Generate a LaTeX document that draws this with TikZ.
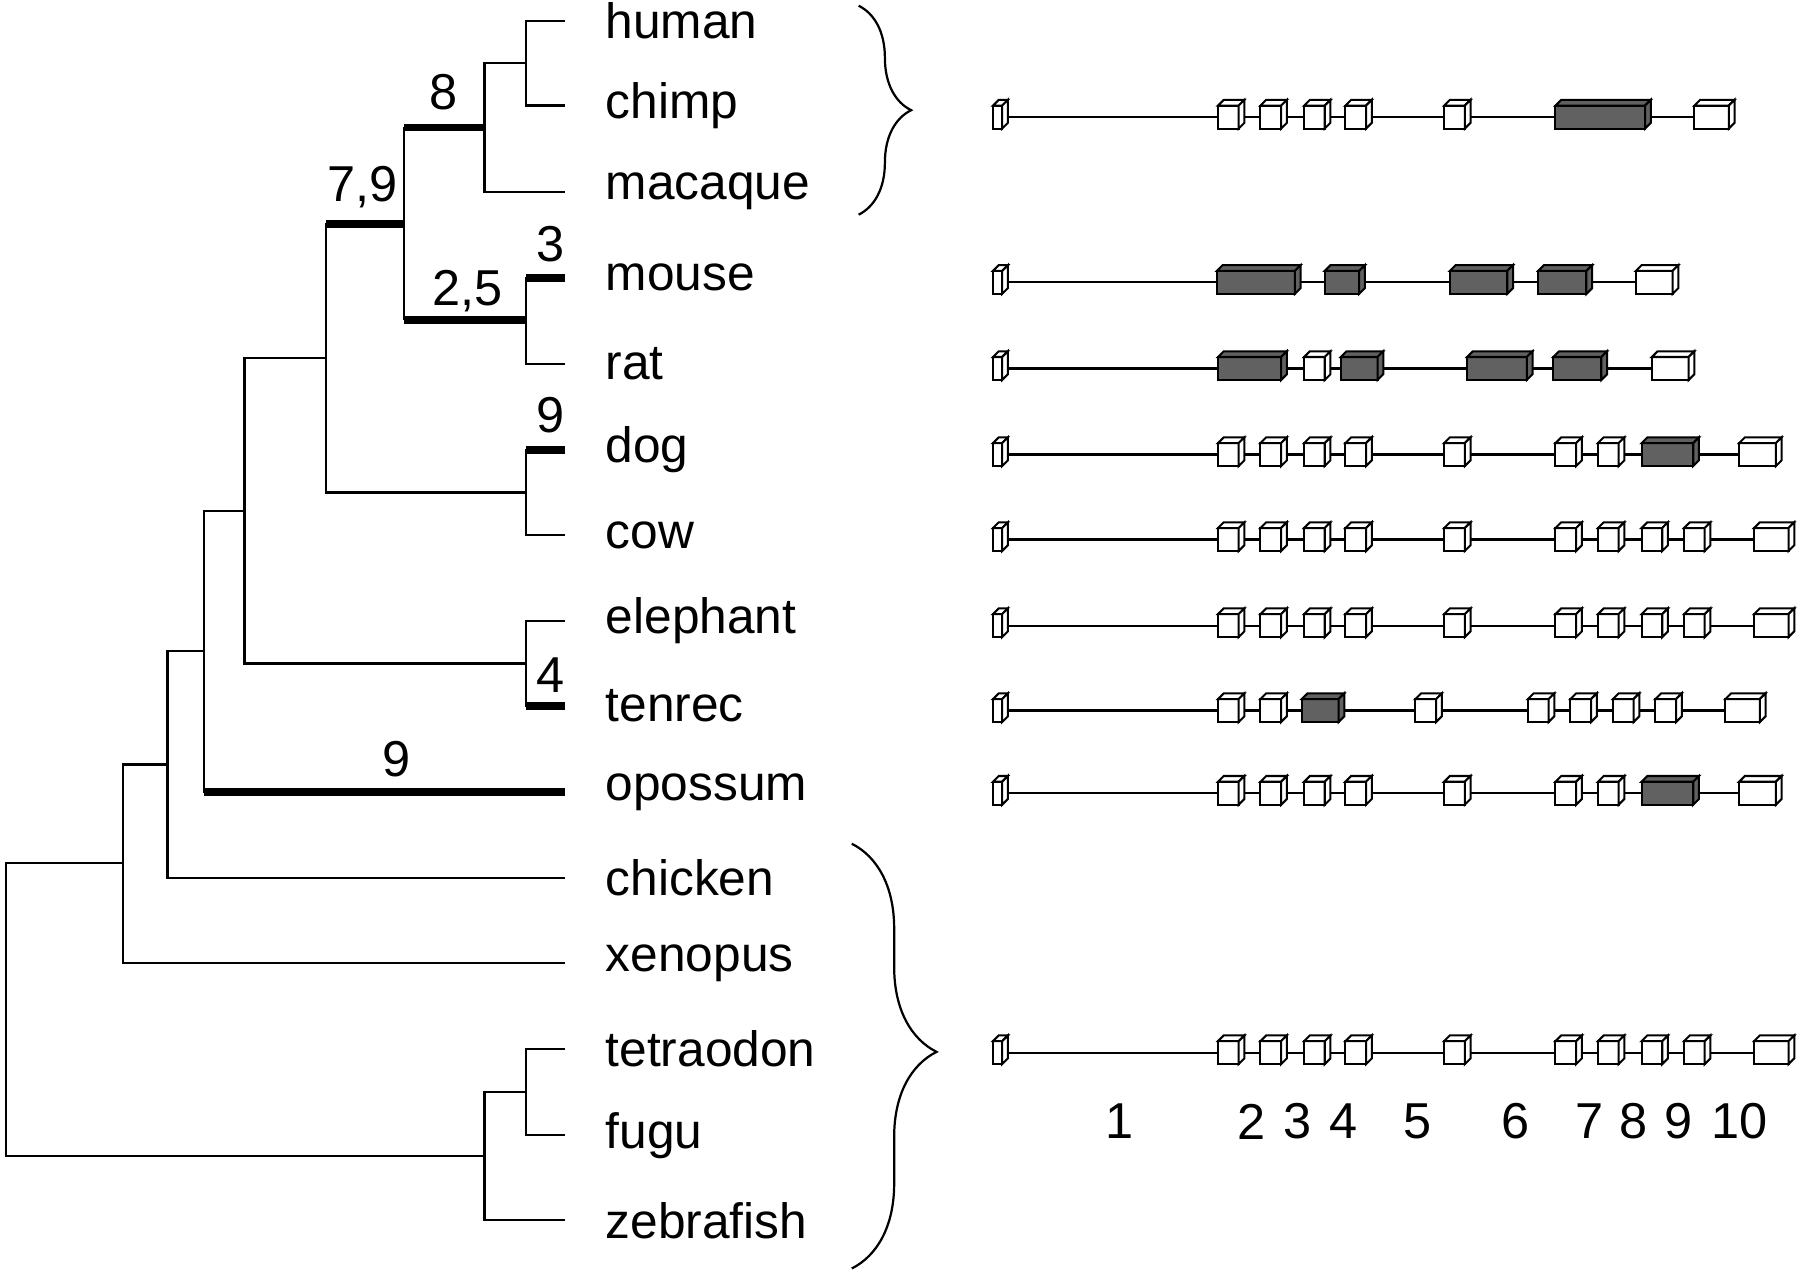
\documentclass[tikz,border=0pt]{standalone}
\usepackage{fontspec}
\setmainfont{Liberation Sans}
\usetikzlibrary{positioning,calc,decorations.pathreplacing}

\tikzset{
  branch/.style={line width=0.55pt},
  lost/.style={line width=1.9pt},
  leaf/.style={anchor=west,font=\fontsize{12.3}{14}\selectfont,inner sep=0pt},
  losslab/.style={font=\fontsize{12.5}{14}\selectfont,inner sep=1pt},
  exonline/.style={line width=0.55pt}
}
\colorlet{dk}{black!62}
% x y width fill
\newcommand{\exon}[4]{%
  \draw[line width=0.5pt,fill=#4] (#1,#2-10) rectangle ++(#3,20);
  \draw[line width=0.5pt,fill=#4] (#1,#2-10) -- ++(5,-5) -- ++(#3,0) -- ++(-5,5) -- cycle;
  \draw[line width=0.5pt,fill=#4] (#1+#3,#2-10) -- ++(5,-5) -- ++(0,20) -- ++(-5,5) -- cycle;
}

\begin{document}
\begin{tikzpicture}[x=0.01cm,y=-0.01cm]
\useasboundingbox (0,0) rectangle (1568,1107);

% leaves
\foreach \n/\y in {human/18,chimp/92,macaque/167,mouse/242,rat/317,dog/392,cow/466,elephant/541,tenrec/615,opossum/690,chicken/765,xenopus/839,tetraodon/914,fugu/989,zebrafish/1063}{
  \coordinate (\n) at (492,\y);
  \node[leaf] (l-\n) at (527,\y) {\n};
}

% internal nodes
\coordinate (hc) at (458,55);
\coordinate (hcm) at (422,111);
\coordinate (mr) at (458,279);
\coordinate (eua) at (352,195);
\coordinate (dc) at (458,429);
\coordinate (bor) at (284,312);
\coordinate (et) at (458,578);
\coordinate (eut) at (213,445);
\coordinate (mam) at (178,567);
\coordinate (amn) at (146,666);
\coordinate (tet) at (107,752);
\coordinate (tf) at (458,951);
\coordinate (fish) at (422,1007);
\coordinate (root) at (5,880);

\draw[branch] (human) -| (hc) |- (chimp);
\draw[branch] (hc) -| (hcm) |- (macaque);
\draw[branch] (rat) -| (mr) |- (mouse);
\draw[lost] (mouse) -- (mouse -| mr);
\draw[branch] (hcm -| eua) -- (mr -| eua);
\draw[lost] (hcm) -- (hcm -| eua);
\draw[lost] (mr) -- (mr -| eua);
\draw[branch] (cow) -| (dc) |- (dog);
\draw[lost] (dog) -- (dog -| dc);
\draw[branch] (eua) -| (bor) |- (dc);
\draw[lost] (eua) -- (eua -| bor);
\draw[branch] (elephant) -| (et) |- (tenrec);
\draw[lost] (tenrec) -- (tenrec -| et);
\draw[branch] (bor) -| (eut) |- (et);
\draw[branch] (eut) -| (mam) |- (opossum);
\draw[lost] (opossum) -- (opossum -| mam);
\draw[branch] (mam) -| (amn) |- (chicken);
\draw[branch] (amn) -| (tet) |- (xenopus);
\draw[branch] (tetraodon) -| (tf) |- (fugu);
\draw[branch] (tf) -| (fish) |- (zebrafish);
\draw[branch] (tet) -| (root |- tet) |- (fish);

% losses
\node[losslab] (m8) at (386,80) {8};
\node[losslab] (m79) at (316,163) {7,9};
\node[losslab] (m25) at (407,254) {2,5};
\node[losslab] (m3) at (480,213) {3};
\node[losslab] (m9a) at (480,362) {9};
\node[losslab] (m4) at (480,588) {4};
\node[losslab] (m9b) at (345,661) {9};

% braces
\draw[branch,decorate,decoration={brace,amplitude=13pt,aspect=0.5}] (748,5) -- (748,187);
\draw[branch,decorate,decoration={brace,amplitude=21pt,aspect=0.49}] (742,735) -- (742,1105);

% gene structures
\draw[exonline] (873,102) -- (1505,102);
\exon{865}{102}{8}{white}
\foreach \x/\w/\c in {1061/18/white,1098/18/white,1136/18/white,1172/18/white,1258/18/white,1355/78/dk,1476/30/white}{\exon{\x}{102}{\w}{\c}}

\draw[exonline] (873,246) -- (1455,246);
\exon{865}{246}{8}{white}
\foreach \x/\w/\c in {1060/68/dk,1154/30/dk,1263/50/dk,1340/42/dk,1425/32/white}{\exon{\x}{246}{\w}{\c}}

\draw[exonline] (873,321) -- (1465,321);
\exon{865}{321}{8}{white}
\foreach \x/\w/\c in {1061/55/dk,1136/18/white,1168/32/dk,1278/52/dk,1353/42/dk,1439/32/white}{\exon{\x}{321}{\w}{\c}}

\foreach \y in {396,691}{
  \draw[exonline] (873,\y) -- (1545,\y);
  \exon{865}{\y}{8}{white}
  \foreach \x/\w/\c in {1061/18/white,1098/18/white,1136/18/white,1172/18/white,1258/18/white,1355/18/white,1392/18/white,1430/45/dk,1515/32/white}{\exon{\x}{\y}{\w}{\c}}
}

\foreach \y in {470,545,917}{
  \draw[exonline] (873,\y) -- (1555,\y);
  \exon{865}{\y}{8}{white}
  \foreach \x/\w/\c in {1061/18/white,1098/18/white,1136/18/white,1172/18/white,1258/18/white,1355/18/white,1392/18/white,1430/18/white,1467/18/white,1528/30/white}{\exon{\x}{\y}{\w}{\c}}
}

\draw[exonline] (873,619) -- (1530,619);
\exon{865}{619}{8}{white}
\foreach \x/\w/\c in {1061/18/white,1098/18/white,1134/32/dk,1233/18/white,1331/18/white,1368/18/white,1405/18/white,1442/18/white,1503/30/white}{\exon{\x}{619}{\w}{\c}}

% exon numbers
\foreach \x/\t in {975/1,1090/2,1130/3,1170/4,1235/5,1320/6,1385/7,1423/8,1462/9,1515/10}{
  \node[losslab] (n\t) at (\x,977) {\t};
}
\end{tikzpicture}
\end{document}
